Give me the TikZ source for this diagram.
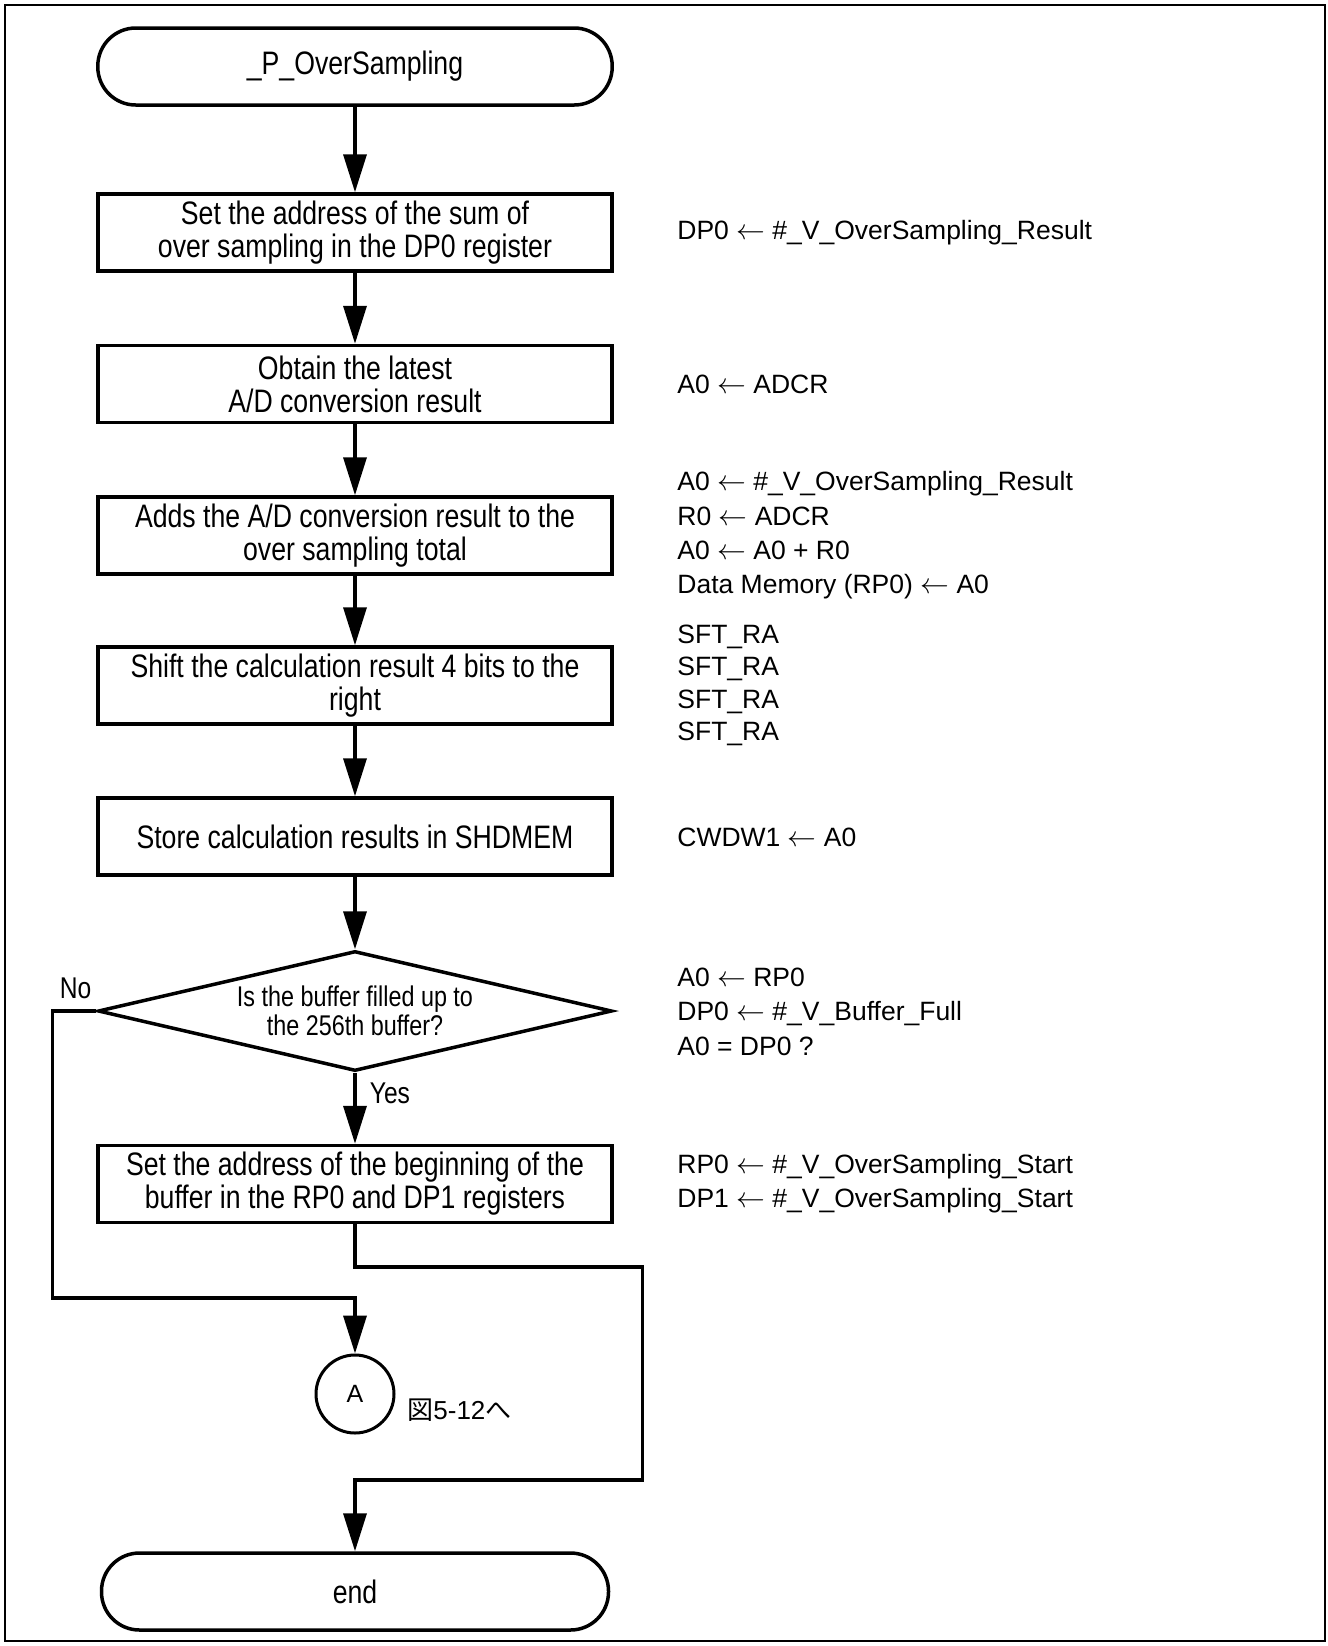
\documentclass[tikz,border=0pt]{standalone}
\usepackage{fontspec}
\setmainfont{Liberation Sans}
\newfontfamily\nar[FakeStretch=0.82]{Liberation Sans}
\newfontfamily\cjk{Noto Sans CJK JP}
\usetikzlibrary{shapes.geometric,arrows.meta}
\newcommand{\bxfont}{\nar\fontsize{16.25pt}{16.5pt}\selectfont}
\newcommand{\dcfont}{\nar\fontsize{14.25pt}{14.5pt}\selectfont}
\newcommand{\lbfont}{\nar\fontsize{15pt}{16pt}\selectfont}
\newcommand{\ntfont}[1]{\fontsize{13.25pt}{#1}\selectfont}
\newcommand{\lar}{\ensuremath{\leftarrow}}
\begin{document}
\begin{tikzpicture}[x=0.5pt,y=-0.5pt,
  proc/.style={draw, line width=1.75pt, minimum width=257.2pt, minimum height=38.5pt, inner sep=0pt, align=center, font=\bxfont},
  term/.style={proc, rounded corners=19pt},
  dec/.style={diamond, draw, line width=1.75pt, aspect=4.28, minimum width=257pt, minimum height=60pt, inner sep=0pt, align=center, font=\dcfont},
  arr/.style={line width=1.75pt, -{Triangle[length=19pt,width=11.5pt]}},
  note/.style={anchor=west, align=left, inner sep=0pt},
  lbl/.style={inner sep=0pt, font=\lbfont}]
\useasboundingbox (0,0) rectangle (1328,1646);
\draw[line width=1pt] (5,5) rectangle (1325,1641);

\node[term] (start) at (355,66.5) {\_P\_OverSampling};
\node[proc] (b1) at (355,232.5) {Set the address of the sum of\\over sampling in the DP0 register};
\node[proc] (b2) at (355,384) {Obtain the latest\\A/D conversion result};
\node[proc] (b3) at (355,535.5) {Adds the A/D conversion result to the\\over sampling total};
\node[proc] (b4) at (355,685.5) {Shift the calculation result 4 bits to the\\right};
\node[proc] (b5) at (355,836.5) {Store calculation results in SHDMEM};
\node[dec] (dec) at (355,1011) {Is the buffer filled up to\\the 256th buffer?};
\node[proc] (b6) at (355,1184) {Set the address of the beginning of the\\buffer in the RP0 and DP1 registers};
\node[circle, draw, line width=1.5pt, minimum size=39pt, inner sep=0pt, font=\fontsize{12.5pt}{14pt}\selectfont] (A) at (355,1394) {A};
\node[term, minimum width=253.5pt] (end) at (355,1591.5) {end};

\node[anchor=west, inner sep=0pt, font=\fontsize{13pt}{15pt}\selectfont] (fig) at (407,1410) {{\cjk 図}5-12{\cjk へ}};
\node[lbl] (no) at (75.6,988) {No};
\node[lbl, anchor=west] (yes) at (369.5,1093) {Yes};

\node[note, font=\ntfont{17pt}] (n1) at (677,233) {DP0 \lar{} \#\_V\_OverSampling\_Result};
\node[note, font=\ntfont{17pt}] (n2) at (677,384) {A0 \lar{} ADCR};
\node[note, font=\ntfont{17.2pt}] (n3) at (677,535.5) {A0 \lar{} \#\_V\_OverSampling\_Result\\R0 \lar{} ADCR\\A0 \lar{} A0 + R0\\Data Memory (RP0) \lar{} A0};
\node[note, font=\ntfont{16.15pt}] (n4) at (677,685.5) {SFT\_RA\\SFT\_RA\\SFT\_RA\\SFT\_RA};
\node[note, font=\ntfont{17pt}] (n5) at (677,837) {CWDW1 \lar{} A0};
\node[note, font=\ntfont{17.25pt}] (n6) at (677,1011.5) {A0 \lar{} RP0\\DP0 \lar{} \#\_V\_Buffer\_Full\\A0 = DP0 ?};
\node[note, font=\ntfont{17pt}] (n7) at (677,1184) {RP0 \lar{} \#\_V\_OverSampling\_Start\\DP1 \lar{} \#\_V\_OverSampling\_Start};

\coordinate (nbot) at (52.5,1298);
\coordinate (r1) at (642.5,1267);
\coordinate (r2) at (642.5,1480);

\draw[arr] (start) -- (b1);
\draw[arr] (b1) -- (b2);
\draw[arr] (b2) -- (b3);
\draw[arr] (b3) -- (b4);
\draw[arr] (b4) -- (b5);
\draw[arr] (b5) -- (dec);
\draw[arr] (dec) -- (b6);
\draw[arr] (dec.west) -| (nbot) -| (A.north);
\draw[arr] (b6.south) |- (r1) -- (r2) -| (end.north);
\end{tikzpicture}
\end{document}
